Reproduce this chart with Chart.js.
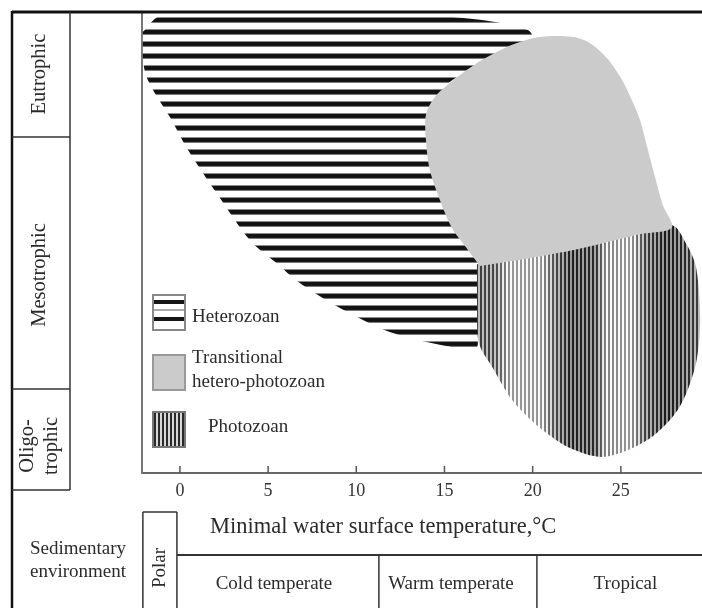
<!DOCTYPE html>
<html>
<head>
<meta charset="utf-8">
<script src="https://cdn.jsdelivr.net/npm/chart.js@4.4.0/dist/chart.umd.min.js"></script>
<style>
  html, body { margin: 0; padding: 0; background: #fff; }
  #wrap { width: 702px; height: 608px; }
</style>
</head>
<body>
<div id="wrap"><canvas id="zoneChart" width="702" height="608"></canvas></div>
<script>
// Field outlines
// x = minimal water surface temperature (°C), y = trophic level (0 = axis, 100 = top)
const heterozoanX = [-2.10, -1.13, 3.97, 12.47, 17.01, 19.73, 19.95, 18.14, 16.44, 15.02, 15.31, 16.89, 16.89, 16.72, 15.02, 11.90, 9.07, 6.80, 5.39, 3.97, 2.15, 0.45, -0.57, -1.42, -1.93, -2.10];
const heterozoanY = [95.7, 99.1, 99.8, 99.6, 98.3, 96.1, 94.6, 90.5, 87.4, 83.1, 59.2, 46.2, 27.8, 26.9, 27.6, 30.6, 35.8, 41.2, 45.8, 50.5, 60.3, 70.1, 77.2, 82.4, 86.3, 89.6];

const transitionalX = [17.01, 16.33, 15.42, 14.74, 14.17, 13.95, 13.95, 14.46, 15.31, 16.44, 17.40, 18.99, 20.41, 22.28, 23.24, 24.21, 25.06, 25.62, 26.08, 26.53, 26.98, 27.38, 27.89, 26.08, 23.81, 22.11, 19.84];
const transitionalY = [44.9, 48.4, 53.2, 59.2, 65.7, 72.2, 77.7, 81.6, 84.6, 87.9, 90.2, 93.1, 94.6, 94.6, 93.3, 90.0, 85.3, 80.9, 76.6, 70.1, 63.6, 58.1, 53.2, 51.8, 49.7, 48.2, 46.6];

const photozoanX = [16.84, 19.84, 22.11, 23.81, 26.08, 27.95, 28.68, 29.20, 29.42, 29.48, 29.20, 28.23, 26.53, 24.09, 22.11, 20.41, 18.88, 17.74, 16.95, 16.84];
const photozoanY = [45.3, 47.2, 48.7, 50.2, 52.4, 53.7, 49.9, 45.6, 39.7, 31.0, 22.8, 13.7, 7.2, 3.5, 5.4, 9.8, 15.6, 22.8, 28.2, 37.5];

const xTicks = [0, 5, 10, 15, 20, 25];
const xMin = -2.15;
const xMax = 29.6;

// trophic rows (top to bottom) and their limits on the y scale
const trophicNames = [['Eutrophic'], ['Mesotrophic'], ['Oligo-', 'trophic']];
const trophicEdges = [100, 72.9, 18.2, -3.7];

// climate zones along the temperature axis
const zoneNames = ['Polar', 'Cold temperate', 'Warm temperate', 'Tropical'];
const zoneEdges = [-2.1, -0.17, 11.28, 20.24, 29.6];

const legendNames = [['Heterozoan'], ['Transitional', 'hetero-photozoan'], ['Photozoan']];

function toPoints(xs, ys) {
    return xs.map((v, i) => ({ x: v, y: ys[i] }));
}

// horizontal black bands
function heteroPattern() {
    const c = document.createElement('canvas');
    c.width = 1; c.height = 12;
    const g = c.getContext('2d');
    const rows = ['#fff', '#fff', '#fff', '#fff', '#fff', '#8a8a8a', '#151515', '#111', '#111', '#1a1a1a', '#7a7a7a', '#fff'];
    rows.forEach((col, r) => { g.fillStyle = col; g.fillRect(0, r, 1, 1); });
    return g.createPattern(c, 'repeat');
}

// vertical bands, darker and lighter groups across the field
function photoPattern() {
    const c = document.createElement('canvas');
    c.width = 702; c.height = 1;
    const g = c.getContext('2d');
    const shade = [[0, 60], [470, 60], [495, 70], [510, 150], [540, 150], [555, 70], [570, 30], [595, 40], [605, 130], [630, 150], [645, 60], [665, 25], [685, 40], [702, 70]];
    for (let px = 0; px < 702; px++) {
        let v = 120;
        for (let i = 0; i < shade.length - 1; i++) {
            if (px >= shade[i][0] && px <= shade[i + 1][0]) {
                const t = (px - shade[i][0]) / (shade[i + 1][0] - shade[i][0]);
                v = shade[i][1] + t * (shade[i + 1][1] - shade[i][1]);
            }
        }
        const col = Math.round(px % 4 < 2 ? v : Math.min(250, v + 125));
        g.fillStyle = `rgb(${col},${col},${col})`;
        g.fillRect(px, 0, 1, 1);
    }
    return g.createPattern(c, 'repeat');
}

const serif = '"Liberation Serif", "DejaVu Serif", serif';

function drawText(ctx, lines, cx, cy, size, rotate, lineGap) {
    ctx.save();
    ctx.translate(cx, cy);
    if (rotate) ctx.rotate(-Math.PI / 2);
    ctx.font = size + 'px ' + serif;
    ctx.fillStyle = '#2b2b2b';
    ctx.textAlign = 'center';
    ctx.textBaseline = 'middle';
    const gap = lineGap || size * 1.4;
    lines.forEach((t, i) => {
        ctx.fillText(t, 0, (i - (lines.length - 1) / 2) * gap);
    });
    ctx.restore();
}

function line(ctx, x1, y1, x2, y2, color, w) {
    ctx.beginPath();
    ctx.strokeStyle = color;
    ctx.lineWidth = w;
    ctx.moveTo(x1, y1);
    ctx.lineTo(x2, y2);
    ctx.stroke();
}

const framePlugin = {
    id: 'frame',
    afterDraw(chart) {
        const { ctx, scales: { x, y }, chartArea } = chart;
        const H = chart.height;
        ctx.save();

        // small tick marks pointing into the plot
        xTicks.forEach(v => {
            const px = x.getPixelForValue(v);
            line(ctx, px, chartArea.bottom, px, chartArea.bottom - 7, '#555', 1.5);
        });

        // outer frame
        line(ctx, 12, 12, 702, 12, '#111', 3);
        line(ctx, 12, 11, 12, H, '#111', 2.5);

        // trophic column
        const tx1 = 12, tx2 = 70;
        line(ctx, tx2, 12, tx2, y.getPixelForValue(trophicEdges[3]), '#333', 1.5);
        trophicEdges.slice(1).forEach(v => {
            const py = y.getPixelForValue(v);
            line(ctx, tx1, py, tx2, py, '#333', 1.5);
        });
        const trophicCentres = [74, 275, 446];
        trophicNames.forEach((n, i) => {
            drawText(ctx, n, (tx1 + tx2) / 2 - 1, trophicCentres[i], 20.5, true, 24);
        });

        // sedimentary environment table
        drawText(ctx, ['Sedimentary', 'environment'], 78, 561, 19, false, 23);
        const rowTop = 555, polarTop = 512;
        const p0 = x.getPixelForValue(zoneEdges[0]);
        const p1 = x.getPixelForValue(zoneEdges[1]);
        line(ctx, p0, polarTop, p1, polarTop, '#333', 1.5);
        line(ctx, p0, polarTop, p0, H, '#333', 1.5);
        line(ctx, p1, polarTop, p1, H, '#333', 1.5);
        line(ctx, p1, rowTop, 702, rowTop, '#333', 2);
        [zoneEdges[2], zoneEdges[3]].forEach(v => {
            const px = x.getPixelForValue(v);
            line(ctx, px, rowTop, px, H, '#333', 1.5);
        });
        drawText(ctx, [zoneNames[0]], (p0 + p1) / 2, 568, 19, true);
        for (let i = 1; i < zoneNames.length; i++) {
            const a = x.getPixelForValue(zoneEdges[i]);
            const b = Math.min(702, x.getPixelForValue(zoneEdges[i + 1]));
            const cx = i === 1 ? 274 : (i === 2 ? 451 : (a + b) / 2 + 6);
            drawText(ctx, [zoneNames[i]], cx, 584, 19);
        }

        // axis name
        ctx.font = '22.5px ' + serif;
        ctx.fillStyle = '#2b2b2b';
        ctx.textAlign = 'left';
        ctx.textBaseline = 'middle';
        ctx.fillText('Minimal water surface temperature,°C', 210, 527);

        // legend
        const lx = chartArea.left + 11, lw = 32;
        const hetTop = 295, transTop = 355, photoTop = 412, sh = 35;
        ctx.fillStyle = '#fff';
        ctx.fillRect(lx, hetTop, lw, sh);
        ctx.fillStyle = '#151515';
        ctx.fillRect(lx, hetTop + 5, lw, 4);
        ctx.fillRect(lx, hetTop + 22, lw, 4);
        ctx.fillStyle = '#aaa';
        ctx.fillRect(lx, hetTop + 14, lw, 2);
        ctx.strokeStyle = '#888';
        ctx.lineWidth = 2;
        ctx.strokeRect(lx, hetTop, lw, sh);

        ctx.fillStyle = '#cbcbcb';
        ctx.fillRect(lx, transTop, lw, sh);
        ctx.strokeStyle = '#999';
        ctx.strokeRect(lx, transTop, lw, sh);

        ctx.fillStyle = '#d8d8d8';
        ctx.fillRect(lx, photoTop, lw, sh);
        ctx.fillStyle = '#2a2a2a';
        for (let k = 0; k < 8; k++) ctx.fillRect(lx + 1 + k * 4, photoTop, 2, sh);
        ctx.strokeStyle = '#777';
        ctx.strokeRect(lx, photoTop, lw, sh);

        ctx.font = '19px ' + serif;
        ctx.fillStyle = '#2b2b2b';
        ctx.textAlign = 'left';
        ctx.textBaseline = 'middle';
        ctx.fillText(legendNames[0][0], lx + 39, 317);
        ctx.fillText(legendNames[1][0], lx + 39, 358);
        ctx.fillText(legendNames[1][1], lx + 39, 382);
        ctx.fillText(legendNames[2][0], lx + 55, 427);

        ctx.restore();
    }
};

const shapeStyle = {
    showLine: true,
    fill: 'shape',
    borderColor: 'rgba(0,0,0,0)',
    borderWidth: 0,
    pointRadius: 0,
    pointHoverRadius: 0,
    tension: 0.3
};

new Chart(document.getElementById('zoneChart'), {
    type: 'scatter',
    data: {
        datasets: [
            Object.assign({ label: 'Transitional hetero-photozoan', data: toPoints(transitionalX, transitionalY), backgroundColor: '#cbcbcb', order: 1 }, shapeStyle),
            Object.assign({ label: 'Photozoan', data: toPoints(photozoanX, photozoanY), backgroundColor: photoPattern(), order: 2 }, shapeStyle),
            Object.assign({ label: 'Heterozoan', data: toPoints(heterozoanX, heterozoanY), backgroundColor: heteroPattern(), order: 3 }, shapeStyle)
        ]
    },
    options: {
        responsive: false,
        animation: false,
        events: [],
        layout: { padding: { left: 142, top: 12, right: 0, bottom: 0 } },
        plugins: {
            legend: { display: false },
            tooltip: { enabled: false }
        },
        scales: {
            x: {
                type: 'linear',
                min: xMin,
                max: xMax,
                grid: { display: false, drawTicks: false },
                border: { display: true, color: '#666', width: 2 },
                ticks: {
                    autoSkip: false,
                    maxRotation: 0,
                    padding: 7,
                    color: '#333',
                    font: { family: serif, size: 18 }
                },
                afterBuildTicks: function(scale) {
                    scale.ticks = xTicks.map(v => ({ value: v }));
                },
                afterFit: function(scale) {
                    scale.height = 135;
                }
            },
            y: {
                type: 'linear',
                min: 0,
                max: 100,
                grid: { display: false, drawTicks: false },
                border: { display: true, color: '#777', width: 2 },
                ticks: { display: false },
                afterFit: function(scale) {
                    scale.width = 0;
                }
            }
        }
    },
    plugins: [framePlugin]
});
</script>
</body>
</html>
